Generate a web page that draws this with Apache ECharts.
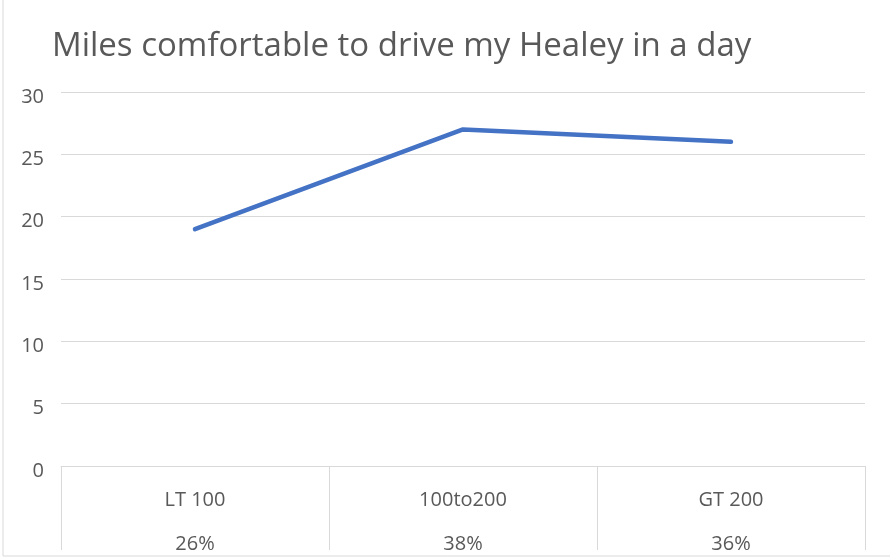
<!DOCTYPE html>
<html>
<head>
<meta charset="utf-8">
<script src="https://cdn.jsdelivr.net/npm/echarts@6/dist/echarts.min.js"></script>
<style>
  html, body { margin: 0; padding: 0; background: #fff; }
  #main { width: 890px; height: 560px; }
</style>
</head>
<body>
<div id="main"></div>
<script>
let categories = ['LT 100', '100to200', 'GT 200'];
let shares = ['26%', '38%', '36%'];
let miles = [19, 27, 26];

let chart = echarts.init(document.getElementById('main'));
let option = {
  backgroundColor: '#fff',
  title: {
    text: 'Miles comfortable to drive my Healey in a day',
    left: 47,
    top: 25,
    textStyle: { fontFamily: 'Open Sans', fontSize: 33, fontWeight: 'normal', color: '#595959' }
  },
  graphic: [{
    type: 'polyline',
    shape: { points: [[3, 0], [3, 556], [890, 556]] },
    style: { stroke: '#d9d9d9', lineWidth: 1, fill: null }
  }],
  grid: { left: 61, right: 25, top: 92, bottom: 94, outerBoundsMode: 'none' },
  xAxis: {
    type: 'category',
    data: categories,
    boundaryGap: true,
    axisLine: { lineStyle: { color: '#d9d9d9', width: 1 } },
    axisTick: { show: true, interval: 0, length: 84, lineStyle: { color: '#d9d9d9' } },
    axisLabel: {
      margin: 12,
      fontFamily: 'Open Sans',
      fontSize: 20,
      color: '#595959',
      lineHeight: 44,
      formatter: function (v, i) { return v + '\n' + shares[i]; }
    }
  },
  yAxis: {
    type: 'value',
    min: 0,
    max: 30,
    interval: 5,
    axisLine: { show: false },
    axisTick: { show: false },
    splitLine: { lineStyle: { color: '#d9d9d9', width: 1 } },
    axisLabel: {
      margin: 17,
      verticalAlign: 'top',
      lineHeight: 10,
      fontFamily: 'Open Sans',
      fontSize: 20,
      color: '#595959'
    }
  },
  series: [{
    type: 'line',
    data: miles,
    showSymbol: false,
    lineStyle: { color: '#4472c4', width: 4.5, cap: 'round' },
    itemStyle: { color: '#4472c4' }
  }]
};
chart.setOption(option);
</script>
</body>
</html>
